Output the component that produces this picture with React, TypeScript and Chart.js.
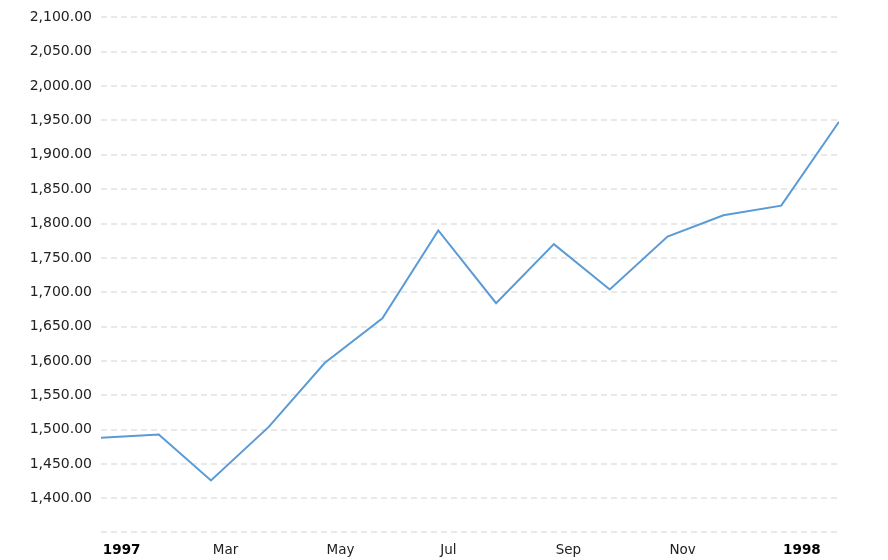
import React, { useEffect, useRef } from "react";
import { Chart, registerables } from "chart.js";

Chart.register(...registerables);

// Month-end dates and closing values
const pointDates = [
  "1996-12-31", "1997-01-31", "1997-02-28", "1997-03-31", "1997-04-30",
  "1997-05-31", "1997-06-30", "1997-07-31", "1997-08-31", "1997-09-30",
  "1997-10-31", "1997-11-30", "1997-12-31", "1998-01-31",
];
const pointValues = [
  1488, 1493, 1426, 1504, 1597, 1662, 1790, 1684, 1770, 1704, 1781, 1812, 1826, 1948,
];

// x-axis tick positions (dates) and labels
const xTickDates = ["1997-01-01", "1997-03-01", "1997-05-01", "1997-07-01", "1997-09-01", "1997-11-01", "1998-01-01"];
const xTickLabels = ["1997", "Mar", "May", "Jul", "Sep", "Nov", "1998"];
const xRange = ["1996-12-31", "1998-01-31"];

// y-axis tick values
const yTickValues = [1400, 1450, 1500, 1550, 1600, 1650, 1700, 1750, 1800, 1850, 1900, 1950, 2000, 2050, 2100];
const yRange = [1351, 2100];

const DAY = 86400000;
const base = Date.UTC(1997, 0, 1);
const dayNum = (s: string) => {
  const [y, m, d] = s.split("-").map(Number);
  return Math.round((Date.UTC(y, m - 1, d) - base) / DAY);
};

const FONT = "'DejaVu Sans', Verdana, sans-serif";
const GRID = "#e9e9e9";

export default function App() {
  const ref = useRef<HTMLCanvasElement | null>(null);
  useEffect(() => {
    if (!ref.current) return;
    const data = pointDates.map((d, i) => ({ x: dayNum(d), y: pointValues[i] }));
    const xTicks = xTickDates.map(dayNum);
    const chart = new Chart(ref.current, {
      type: "line",
      data: {
        datasets: [
          {
            data,
            borderColor: "#5b9bd5",
            borderWidth: 2,
            pointRadius: 0,
            tension: 0,
            fill: false,
          },
        ],
      },
      options: {
        animation: false,
        responsive: true,
        maintainAspectRatio: false,
        layout: { padding: { left: 0, right: 49, top: 15, bottom: 0 } },
        plugins: { legend: { display: false }, tooltip: { enabled: false } },
        scales: {
          x: {
            type: "linear",
            min: dayNum(xRange[0]),
            max: dayNum(xRange[1]),
            afterBuildTicks: (s: any) => {
              s.ticks = xTicks.map((v) => ({ value: v }));
            },
            afterFit: (s: any) => {
              s.height = 28;
            },
            grid: { display: false, drawTicks: false },
            border: { display: false },
            ticks: {
              autoSkip: false,
              maxRotation: 0,
              align: "start",
              padding: 10,
              callback: (v: any) => {
                const i = xTicks.indexOf(Number(v));
                return i >= 0 ? xTickLabels[i] : "";
              },
              color: (ctx: any) => (/^\d{4}$/.test(ctx.tick?.label) ? "#000" : "#222"),
              font: (ctx: any) => ({
                family: FONT,
                size: 13.5,
                weight: /^\d{4}$/.test(ctx.tick?.label) ? "bold" : "normal",
              }),
            },
          },
          y: {
            min: yRange[0],
            max: yRange[1],
            afterBuildTicks: (s: any) => {
              s.ticks = [yRange[0], ...yTickValues].map((v) => ({ value: v }));
            },
            afterFit: (s: any) => {
              s.width = 101;
            },
            grid: { color: GRID, lineWidth: 2, drawTicks: false },
            border: { display: false, dash: [6, 4] },
            ticks: {
              padding: 9,
              color: "#222",
              font: { family: FONT, size: 14 },
              callback: (v: any) =>
                Number(v) === yRange[0]
                  ? ""
                  : Number(v).toLocaleString("en-US", { minimumFractionDigits: 2, maximumFractionDigits: 2 }),
            },
          },
        },
      },
    });
    return () => chart.destroy();
  }, []);
  return (
    <div style={{ position: "fixed", left: 0, top: 0, width: 888, height: 560, background: "#fff" }}>
      <canvas ref={ref} />
    </div>
  );
}
